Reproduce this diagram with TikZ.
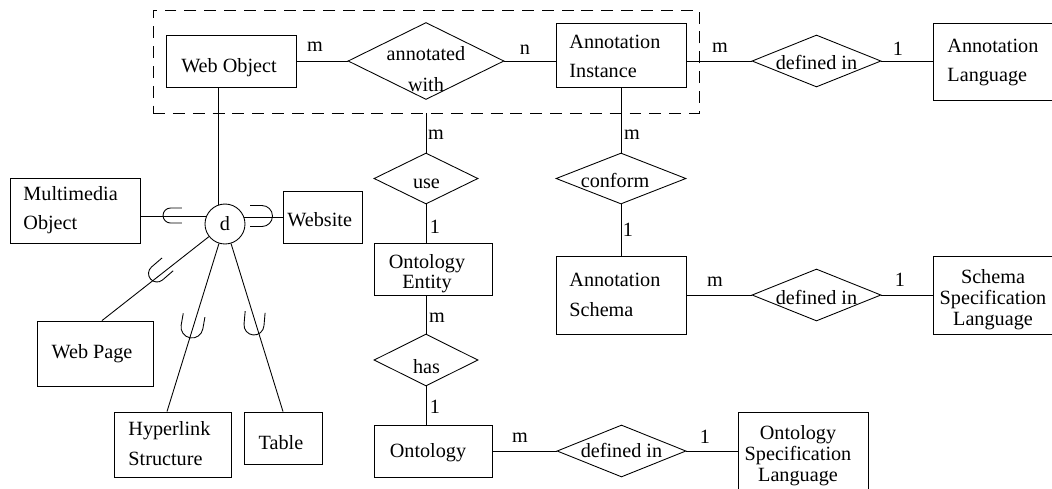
\documentclass[tikz,border=0pt]{standalone}
\usepackage{fontspec}
\setmainfont{Liberation Serif}
\usetikzlibrary{shapes.geometric}
\newcommand\subsym[5]{\draw[shift={(#1,#2)}, rotate=#3] (#5,#4) -- (0,#4) arc[start angle=90,end angle=270,radius=#4] -- (#5,-#4);}
\begin{document}
\begin{tikzpicture}[x=0.02cm,y=-0.02cm, line width=0.5pt,
  ent/.style={draw, rectangle, inner sep=0pt},
  rel/.style={draw, diamond, inner sep=0pt},
  disj/.style={draw, circle, inner sep=0pt, minimum size=0.8cm, font=\fontsize{11.5}{13}\selectfont},
  txt/.style={inner sep=0pt, font=\fontsize{11.5}{16.8}\selectfont},
  tight/.style={inner sep=0pt, font=\fontsize{11.5}{12}\selectfont, align=center},
  card/.style={inner sep=0pt, font=\fontsize{11.5}{13}\selectfont},
  grp/.style={draw, dash pattern=on 6.8pt off 4.5pt, rectangle, inner sep=0pt}
]
\useasboundingbox (0,0) rectangle (1052,488);

% aggregation group
\node[grp, minimum width=10.92cm, minimum height=2.06cm] (grp) at (426,61.5) {};

% entities
\node[ent, minimum width=2.6cm, minimum height=1.04cm] (wo) at (231,61) {};
\node[txt] (wot) at (229,67.5) {Web Object};
\node[ent, minimum width=2.6cm, minimum height=1.28cm] (ai) at (621,55) {};
\node[txt, align=left, anchor=west] (ait) at (569,56.5) {Annotation\\Instance};
\node[ent, minimum width=2.6cm, minimum height=1.54cm] (al) at (998,61.5) {};
\node[txt, align=left, anchor=west] (alt) at (947,62.5) {Annotation\\Language};
\node[ent, minimum width=2.6cm, minimum height=1.3cm] (mo) at (75,210.5) {};
\node[txt, align=left, anchor=west] (mot) at (23,210) {Multimedia\\Object};
\node[ent, minimum width=1.58cm, minimum height=1.04cm] (ws) at (322.5,217) {};
\node[txt, anchor=west] (wst) at (287,220) {Website};
\node[ent, minimum width=2.32cm, minimum height=1.3cm] (wp) at (95,353.5) {};
\node[txt] (wpt) at (92,353.5) {Web Page};
\node[ent, minimum width=2.34cm, minimum height=1.3cm] (hs) at (172.5,444.5) {};
\node[txt, align=left, anchor=west] (hst) at (128,443.5) {Hyperlink\\Structure};
\node[ent, minimum width=1.56cm, minimum height=1.04cm] (tb) at (283,438) {};
\node[txt] (tbt) at (281,442.5) {Table};
\node[ent, minimum width=2.36cm, minimum height=1.04cm] (oe) at (433,269) {};
\node[tight, font=\fontsize{11.5}{11.2}\selectfont] (oet) at (427,273.5) {Ontology\\Entity};
\node[ent, minimum width=2.36cm, minimum height=1.04cm] (on) at (433,451) {};
\node[txt] (ont) at (428,453) {Ontology};
\node[ent, minimum width=2.6cm, minimum height=1.56cm] (as) at (621,295) {};
\node[txt, align=left, anchor=west] (ast) at (569,295) {Annotation\\Schema};
\node[ent, minimum width=2.6cm, minimum height=1.56cm] (ssl) at (998,295) {};
\node[tight] (sslt) at (993,300) {Schema\\Specification\\Language};
\node[ent, minimum width=2.6cm, minimum height=1.7cm] (osl) at (803,454.5) {};
\node[tight] (oslt) at (798,456) {Ontology\\Specification\\Language};

% relationships
\node[rel, minimum width=3.12cm, minimum height=1.54cm] (aw) at (426,61) {};
\node[txt, align=center, font=\fontsize{11.5}{17.6}\selectfont] (awt) at (426,69.5) {annotated\\with};
\node[rel, minimum width=2.58cm, minimum height=1.04cm] (d1) at (816.5,61) {};
\node[txt] (d1t) at (816.5,62) {defined in};
\node[rel, minimum width=2.08cm, minimum height=1.02cm] (use) at (426,178.5) {};
\node[txt] (uset) at (426.5,184) {use};
\node[rel, minimum width=2.6cm, minimum height=1.02cm] (conf) at (621,178.5) {};
\node[txt] (conft) at (615,180) {conform};
\node[rel, minimum width=2.58cm, minimum height=1.04cm] (d2) at (816.5,295) {};
\node[txt] (d2t) at (816.5,297.5) {defined in};
\node[rel, minimum width=2.08cm, minimum height=1.04cm] (has) at (426,360) {};
\node[txt] (hast) at (426.5,366.5) {has};
\node[rel, minimum width=2.58cm, minimum height=1.04cm] (d3) at (621.5,451) {};
\node[txt] (d3t) at (621.5,450.5) {defined in};

% disjoint specialization circle
\node[disj] (dd) at (225,224) {d};

% connectors
\draw (wo.east) -- (aw.west);
\draw (aw.east) -- (aw.east -| ai.west);
\draw (ai.east |- d1.west) -- (d1.west);
\draw (d1.east) -- (d1.east -| al.west);
\draw (use.north |- grp.south) -- (use.north);
\draw (use.south) -- (use.south |- oe.north);
\draw (has.north |- oe.south) -- (has.north);
\draw (has.south) -- (has.south |- on.north);
\draw (on.east |- d3.west) -- (d3.west);
\draw (d3.east) -- (d3.east -| osl.west);
\draw (ai.south) -- (conf.north);
\draw (conf.south) -- (as.north);
\draw (as.east) -- (d2.west);
\draw (d2.east) -- (d2.east -| ssl.west);

\draw (dd.110.5) -- (dd.110.5 |- wo.south);
\draw (mo.east |- dd.159.5) -- (dd.159.5);
\draw (dd.20.5) -- (dd.20.5 -| ws.west);
\draw ([xshift=0.14cm]wp.north) -- (dd);
\draw ([xshift=-0.11cm]hs.north) -- (dd);
\draw (tb.north) -- (dd);

% subset symbols
\subsym{170.5}{215.5}{0}{0.15cm}{0.23cm}
\subsym{262}{216}{180}{0.21cm}{0.24cm}
\subsym{157}{273.5}{40.8}{0.17cm}{0.28cm}
\subsym{192}{327}{80}{0.22cm}{0.24cm}
\subsym{254}{325}{85}{0.2cm}{0.26cm}

% cardinalities
\node[card] (c1) at (315,47) {m};
\node[card] (c2) at (525,50) {n};
\node[card] (c3) at (720,48) {m};
\node[card] (c4) at (898,49) {1};
\node[card] (c5) at (436,135) {m};
\node[card] (c6) at (435,227) {1};
\node[card] (c7) at (632,135) {m};
\node[card] (c8) at (628,230) {1};
\node[card] (c9) at (437,318) {m};
\node[card] (c10) at (435,407) {1};
\node[card] (c11) at (520,438) {m};
\node[card] (c12) at (705,437) {1};
\node[card] (c13) at (715,282) {m};
\node[card] (c14) at (900,280) {1};
\end{tikzpicture}
\end{document}
